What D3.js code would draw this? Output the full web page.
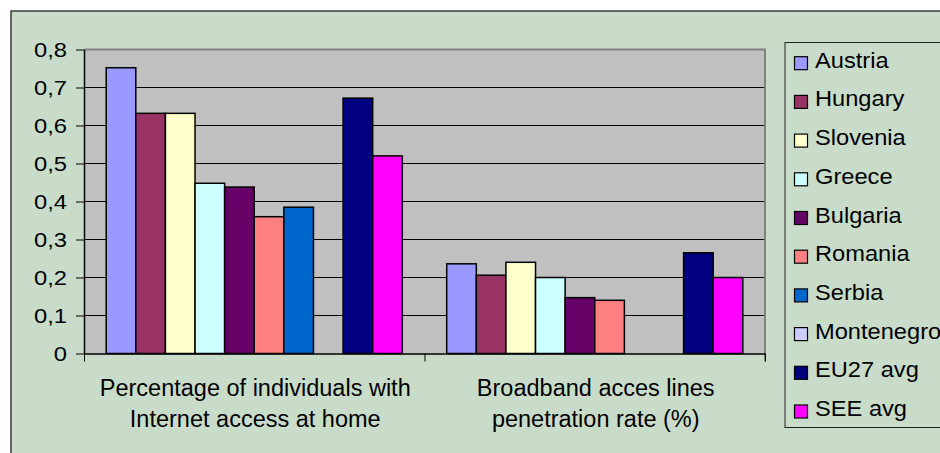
<!DOCTYPE html>
<html>
<head>
<meta charset="utf-8">
<script src="https://cdn.jsdelivr.net/npm/d3@7"></script>
<style>
  html, body { margin: 0; padding: 0; background: #ffffff; }
  svg { display: block; }
  text { font-family: "Liberation Sans", Arial, sans-serif; fill: #000; }
</style>
</head>
<body>
<svg id="chart" width="940" height="453"></svg>
<script>
// ---- data ----
const categories = ["internet", "broadband"];
const categoryLabels = [
  ["Percentage of individuals with", "Internet access at home"],
  ["Broadband acces lines", "penetration rate (%)"]
];
const seriesNames = ["Austria", "Hungary", "Slovenia", "Greece", "Bulgaria",
                     "Romania", "Serbia", "Montenegro", "EU27 avg", "SEE avg"];
// one value per series, in seriesNames order (null = no data)
const internetAccess = [0.752, 0.632, 0.632, 0.448, 0.438, 0.36, 0.385, null, 0.672, 0.52];
const broadbandRate  = [0.236, 0.206, 0.24, 0.2, 0.147, 0.14, null, null, 0.265, 0.2];
const yTicks = [0, 0.1, 0.2, 0.3, 0.4, 0.5, 0.6, 0.7, 0.8];
const yTickLabels = ["0", "0,1", "0,2", "0,3", "0,4", "0,5", "0,6", "0,7", "0,8"];

const seriesColors = ["#9999FF", "#993366", "#FFFFCC", "#CCFFFF", "#660066",
                      "#FF8080", "#0066CC", "#CCCCFF", "#000080", "#FF00FF"];

const valuesByCategory = [internetAccess, broadbandRate];

// ---- layout ----
const svg = d3.select("#chart");
const plot = { left: 84, right: 765, top: 49.5, bottom: 353.5 };

// chart area background (runs past the visible frame on right and bottom)
svg.append("rect")
  .attr("x", 11).attr("y", 11)
  .attr("width", 1000).attr("height", 500)
  .attr("fill", "#C9DCC9")
  .attr("stroke", "#383838").attr("stroke-width", 1.5);

// scales
const x0 = d3.scaleBand().domain(categories).range([plot.left, plot.right]).padding(0);
const x1 = d3.scaleBand().domain(seriesNames).range([0, x0.bandwidth()])
  .paddingInner(0).paddingOuter(0.75);
const y = d3.scaleLinear().domain([0, 0.8]).range([plot.bottom, plot.top]);
const xEdge = d3.scaleLinear().domain([0, categories.length]).range([plot.left, plot.right]);

// plot area
svg.append("rect")
  .attr("x", plot.left).attr("y", plot.top)
  .attr("width", plot.right - plot.left).attr("height", plot.bottom - plot.top)
  .attr("fill", "#C0C0C0");

// gridlines
svg.append("g").selectAll("line")
  .data(yTicks.filter(t => t > 0 && t < 0.8))
  .join("line")
  .attr("x1", plot.left).attr("x2", plot.right)
  .attr("y1", d => y(d)).attr("y2", d => y(d))
  .attr("stroke", "#000").attr("stroke-width", 1);

// plot border on top and right
svg.append("path")
  .attr("d", `M${plot.left},${plot.top}H${plot.right}V${plot.bottom + 8}`)
  .attr("fill", "none").attr("stroke", "#808080").attr("stroke-width", 2);

// bars
const groups = svg.append("g").selectAll("g")
  .data(categories)
  .join("g")
  .attr("transform", d => `translate(${x0(d)},0)`);

groups.selectAll("rect")
  .data((d, ci) => seriesNames.map((s, si) => ({ s, si, v: valuesByCategory[ci][si] }))
    .filter(e => e.v !== null))
  .join("rect")
  .attr("x", d => x1(d.s))
  .attr("width", x1.bandwidth())
  .attr("y", d => y(d.v))
  .attr("height", d => y(0) - y(d.v))
  .attr("fill", d => seriesColors[d.si])
  .attr("stroke", "#000").attr("stroke-width", 1.5);

// y axis
const yAxis = svg.append("g")
  .attr("transform", `translate(${plot.left},0)`)
  .call(d3.axisLeft(y).tickValues(yTicks)
    .tickFormat((d, i) => yTickLabels[i]).tickSize(8).tickSizeOuter(0));
yAxis.select(".domain").attr("stroke", "#000").attr("stroke-width", 1.5);
yAxis.selectAll(".tick line").attr("stroke", "#000").attr("stroke-width", 1);
yAxis.selectAll(".tick text")
  .attr("x", null).attr("dy", null)
  .attr("text-anchor", "end")
  .style("font-size", "19.5px")
  .attr("transform", "translate(-17,7) scale(1.22,1)");

// x axis (ticks on category boundaries)
const xAxis = svg.append("g")
  .attr("transform", `translate(0,${plot.bottom})`)
  .call(d3.axisBottom(xEdge).tickValues(d3.range(categories.length + 1))
    .tickFormat("").tickSize(8).tickSizeOuter(0));
xAxis.select(".domain").attr("stroke", "#000").attr("stroke-width", 1.5);
xAxis.selectAll(".tick line").attr("stroke", "#000").attr("stroke-width", 1);

// category labels
categories.forEach((c, ci) => {
  const cx = x0(c) + x0.bandwidth() / 2 + 1;
  categoryLabels[ci].forEach((line, li) => {
    svg.append("text")
      .attr("x", cx).attr("y", 395.5 + li * 31.5)
      .attr("text-anchor", "middle")
      .style("font-size", "23.5px")
      .text(line);
  });
});

// legend
const legend = svg.append("g");
legend.append("rect")
  .attr("x", 785).attr("y", 42.5)
  .attr("width", 300).attr("height", 385)
  .attr("fill", "none").attr("stroke", "#222").attr("stroke-width", 1);

const item = legend.selectAll("g.item")
  .data(seriesNames)
  .join("g").attr("class", "item")
  .attr("transform", (d, i) => `translate(0,${67.7 + i * 38.7})`);
item.append("rect")
  .attr("x", 794.5).attr("y", -11)
  .attr("width", 13).attr("height", 13)
  .attr("fill", (d, i) => seriesColors[i])
  .attr("stroke", "#000").attr("stroke-width", 1.2);
item.append("text")
  .attr("transform", "translate(815,0) scale(1.1,1)")
  .style("font-size", "21.5px")
  .text(d => d);
</script>
</body>
</html>
